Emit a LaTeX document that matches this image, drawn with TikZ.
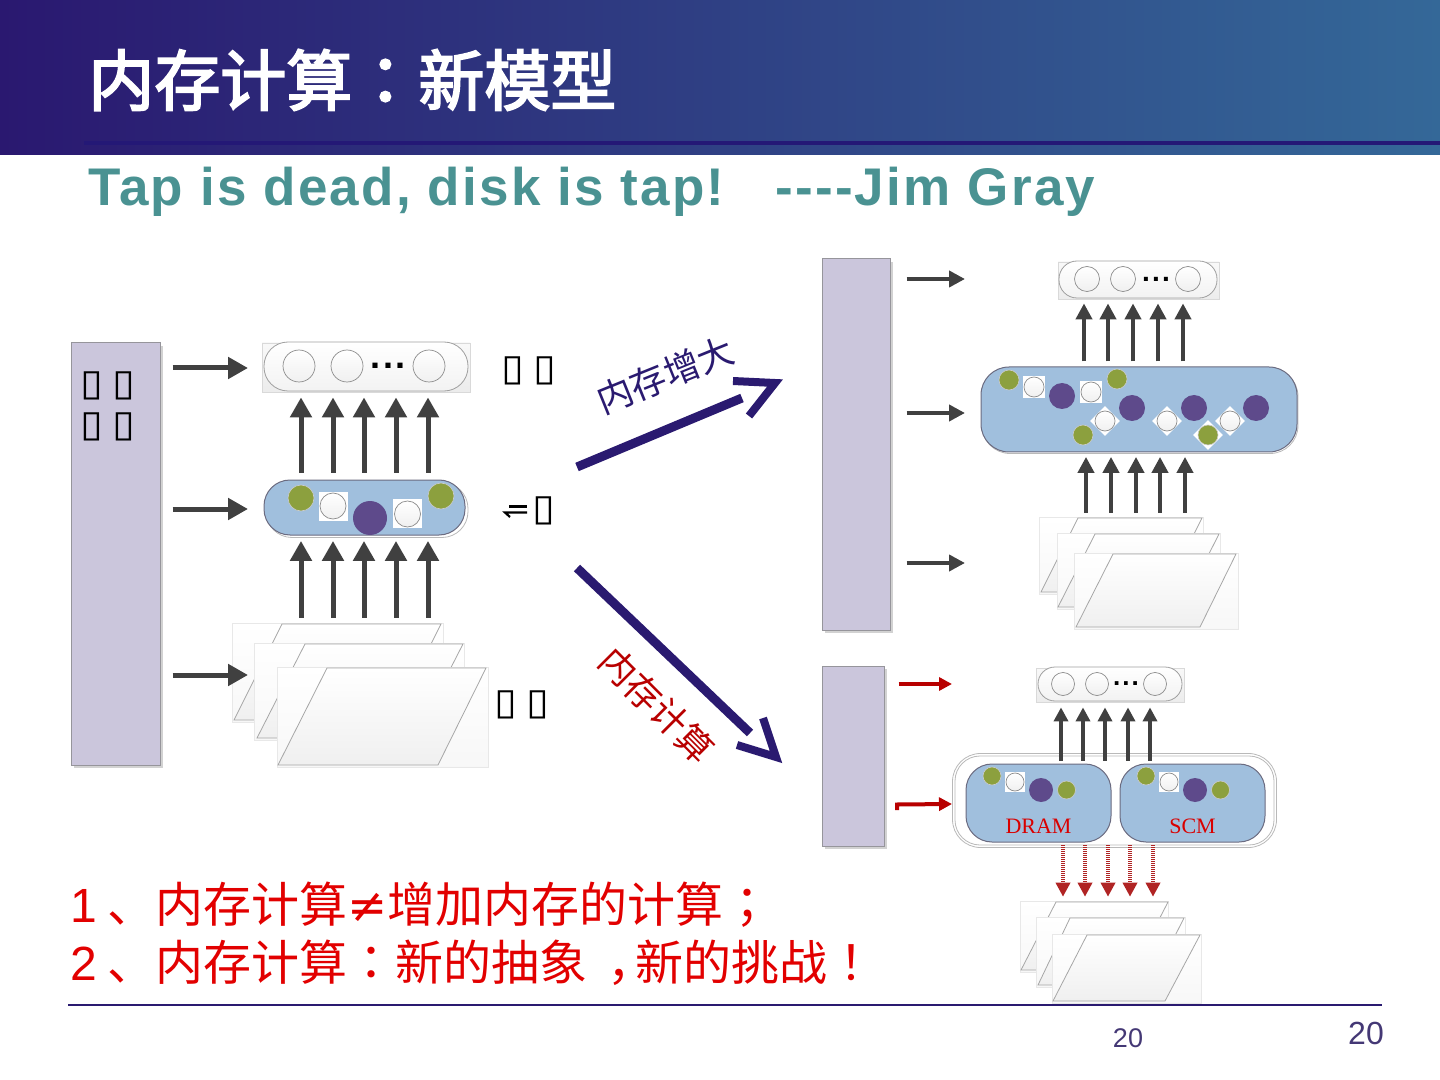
\documentclass[tikz,border=0pt]{standalone}
\usepackage{fontspec}
\setmainfont{Liberation Sans}
\newfontfamily\cjkfont{Noto Sans CJK SC}
\newfontfamily\cjkpunct{Noto Sans CJK TC}
\newfontfamily\titlefont[FakeBold=3]{Noto Sans CJK SC}
\newfontfamily\titlepunct[FakeBold=3]{Noto Sans CJK TC}
\newfontfamily\subfont[LetterSpace=4.2, Ligatures=NoCommon]{Liberation Sans}
\newfontfamily\tofufont[FakeStretch=1.12]{DejaVu Sans}
\newfontfamily\symfont{DejaVu Sans}
\newfontfamily\serffont{Liberation Serif}
\usetikzlibrary{arrows.meta, positioning, calc, shadows}

\definecolor{titleleft}{RGB}{42,24,112}
\definecolor{titleright}{RGB}{52,104,152}
\definecolor{navy}{RGB}{42,26,112}
\definecolor{bandrule}{RGB}{36,24,118}
\definecolor{teal}{RGB}{74,146,146}
\definecolor{lilac}{RGB}{203,198,220}
\definecolor{memblue}{RGB}{160,191,221}
\definecolor{olive}{RGB}{140,160,62}
\definecolor{plum}{RGB}{94,74,139}
\definecolor{arrowgray}{RGB}{64,64,64}
\definecolor{darkred}{RGB}{184,0,0}
\definecolor{dotred}{RGB}{176,36,36}
\definecolor{slidered}{RGB}{226,0,0}

\newcommand{\threedots}{.\hspace{0.08em}.\hspace{0.08em}.}

\begin{document}
\begin{tikzpicture}[
    x=0.5pt, y=-0.5pt,
    barbox/.style={draw=gray!70!lilac, fill=lilac, line width=0.5pt, inner sep=0pt,
      drop shadow={shadow xshift=1.5pt, shadow yshift=-1.5pt, fill=gray!35, opacity=1}},
    capback/.style={draw=gray!30, top color=gray!5, bottom color=gray!15, line width=0.4pt, inner sep=0pt},
    capsule/.style={draw=gray!75, top color=white, bottom color=gray!10, line width=0.4pt, inner sep=0pt},
    memback/.style={draw=gray!55, fill=white, line width=0.4pt, inner sep=0pt},
    membox/.style={draw=gray!30!blue!20!black!60, fill=memblue, line width=0.5pt, inner sep=0pt},
    hollow/.style={circle, draw=gray!90, top color=white, bottom color=gray!12, line width=0.35pt, inner sep=0pt},
    greendot/.style={circle, fill=olive, draw=gray!40, line width=0.3pt, inner sep=0pt},
    plumdot/.style={circle, fill=plum, inner sep=0pt},
    whitetile/.style={fill=white, inner sep=0pt},
    sheetback/.style={top color=white, bottom color=gray!6, draw=gray!18, line width=0.3pt, inner sep=0pt},
    leaf/.style={draw=gray!70, top color=white, bottom color=gray!12, line width=0.4pt},
    sidearr/.style={draw=arrowgray, line width=2.5pt, -{Triangle[length=10pt, width=10.5pt]}},
    sidearrs/.style={draw=arrowgray, line width=2pt, -{Triangle[length=8pt, width=8pt]}},
    redarr/.style={draw=darkred, line width=2pt, -{Triangle[length=6.5pt, width=6.5pt]}},
    uparr/.style={draw=arrowgray, line width=2.5pt, -{Triangle[length=10pt, width=10.5pt]}},
    uparrs/.style={draw=arrowgray, line width=2.2pt, -{Triangle[length=8pt, width=8pt]}},
    uparrt/.style={draw=arrowgray, line width=2pt, -{Triangle[length=7pt, width=7pt]}},
    dotarr/.style={draw=dotred, line width=1.7pt, dash pattern=on 0.5pt off 0.5pt,
      -{Triangle[length=7pt, width=7pt]}},
    bigline/.style={draw=navy, line width=4.5pt},
    bigtip/.style={draw=navy, line width=4pt, miter limit=10},
    tofu/.style={font=\tofufont\fontsize{18.5}{18.5}\selectfont, inner sep=0pt},
    dotstext/.style={font=\bfseries\fontsize{#1}{#1}\selectfont, inner sep=0pt},
  ]
    % title band
    \node[left color=titleleft, right color=titleright, minimum width=720pt, minimum height=77.5pt, inner sep=0pt] (band) at (720,77.5) {};
    \node[fill=bandrule, minimum width=678pt, minimum height=2pt, inner sep=0pt] (bandline) at (762,143) {};
    \node[anchor=west, white, inner sep=0pt, font=\titlefont\fontsize{33}{33}\selectfont] (title) at (88,80) {内存计算{\titlepunct ：}新模型};
    \node[anchor=west, teal, inner sep=0pt, font=\subfont\bfseries\fontsize{26.5}{26.5}\selectfont] (subtitle) at (88,192) {Tap is dead, disk is tap!\ \ \ -{}-{}-{}-Jim Gray};

    % left model
    \node[barbox, minimum width=44.5pt, minimum height=211pt] (barL) at (115.5,554) {};
    \node[capback, minimum width=104pt, minimum height=24.5pt] (appLback) at (366,367.5) {};
    \node[capsule, rounded corners=12pt, minimum width=102pt, minimum height=24.5pt] (appL) at (366,366.5) {};
    \node[hollow, minimum size=16pt] (appLa) at (299,366) {};
    \node[hollow, minimum size=16pt] (appLb) at (347,366) {};
    \node[hollow, minimum size=16pt] (appLc) at (429,366) {};
    \node[dotstext=18] (appLdots) at (388,366) {\threedots};
    \node[memback, rounded corners=13pt, minimum width=101pt, minimum height=27.5pt] (memLback) at (367,510) {};
    \node[membox, rounded corners=13pt, minimum width=100.5pt, minimum height=27.5pt] (memL) at (364.5,507.5) {};
    \node[greendot, minimum size=13pt] (memLg1) at (301,498) {};
    \node[greendot, minimum size=13pt] (memLg2) at (441,496) {};
    \node[whitetile, minimum size=14.5pt] (memLt1) at (333.5,506) {};
    \node[hollow, minimum size=13pt] (memLw1) at (333,506) {};
    \node[whitetile, minimum size=14.5pt] (memLt2) at (407.5,513.5) {};
    \node[hollow, minimum size=13pt] (memLw2) at (407.5,514) {};
    \node[plumdot, minimum size=17pt] (memLp) at (370,518) {};
    \foreach \n/\xa/\xb/\ya/\yb/\tl/\tr/\bl/\br in {
        1/232/443/623/722/282/441/234/393,
        2/254/464/643/740/305/463/257/415,
        3/277/488/667/767/327/486/278/438} {
      \node[sheetback, minimum width={(\xb-\xa)/2*1pt}, minimum height={(\yb-\ya)/2*1pt}] (sheetL\n) at ({(\xa+\xb)/2},{(\ya+\yb)/2}) {};
      \path[leaf] (\tl,\ya+1) -- (\tr,\ya+1) -- (\br,\yb-2) -- (\bl,\yb-2) -- cycle;
    }
    \coordinate (storeLin) at (248,675);
    \coordinate (appLin) at (248,368);
    \coordinate (memLin) at (248,509);
    \draw[sidearr, shorten <=6pt] (barL.east |- appLin) -- (appLin);
    \draw[sidearr, shorten <=6pt] (barL.east |- memLin) -- (memLin);
    \draw[sidearr, shorten <=6pt] (barL.east |- storeLin) -- (storeLin);
    \foreach \x in {301,333,364,396,428} {
      \draw[uparr, shorten <=3.5pt, shorten >=2.5pt] (\x,0 |- memL.north) -- (\x,0 |- appLback.south);
      \draw[uparr, shorten >=1.5pt, shorten <=2.5pt] (\x,0 |- sheetL1.north) -- (\x,0 |- memLback.south);
    }
    \node[tofu] (barLa) at (92,386) {▯};
    \node[tofu] (barLb) at (124,386) {▯};
    \node[tofu] (barLc) at (92,427) {▯};
    \node[tofu] (barLd) at (124,427) {▯};
    \node[tofu] (appLa1) at (513,371) {▯};
    \node[tofu] (appLa2) at (545,371) {▯};
    \draw[line width=1.1pt] (509,506.5) -- (527,506.5);
    \draw[line width=1.1pt] (527,512.5) -- (505,512.5) -- (510,517);
    \node[tofu] (memLa2) at (544,511) {▯};
    \node[tofu] (storeLa1) at (506,705) {▯};
    \node[tofu] (storeLa2) at (538,705) {▯};

    % large arrows
    \coordinate (growA) at (577,467);
    \coordinate (growB) at (742,398);
    \coordinate (growC) at (733,381);
    \coordinate (growD) at (775,383);
    \coordinate (growE) at (749,416);
    \draw[bigline] (growA) -- (growB);
    \draw[bigtip] (growC) -- (growD) -- (growE);
    \coordinate (compA) at (577,568);
    \coordinate (compB) at (750,733);
    \coordinate (compC) at (763,718);
    \coordinate (compD) at (776,757);
    \coordinate (compE) at (737,745);
    \draw[bigline] (compA) -- (compB);
    \draw[bigtip] (compC) -- (compD) -- (compE);
    \node[navy, rotate=22, inner sep=0pt, font=\cjkfont\fontsize{18}{18}\selectfont] (growlabel) at (665,375) {内存增大};
    \node[darkred, rotate=-45, inner sep=0pt, font=\cjkfont\fontsize{18}{18}\selectfont] (complabel) at (657,705) {内存计算};

    % enlarged memory
    \node[barbox, minimum width=34pt, minimum height=185.5pt] (barT) at (856,444.5) {};
    \node[capback, minimum width=80.5pt, minimum height=18.5pt] (appTback) at (1138.5,280.5) {};
    \node[capsule, rounded corners=9pt, minimum width=79pt, minimum height=18.5pt] (appT) at (1138,279.5) {};
    \node[hollow, minimum size=12.5pt] (appTa) at (1087,279) {};
    \node[hollow, minimum size=12.5pt] (appTb) at (1123,279) {};
    \node[hollow, minimum size=12.5pt] (appTc) at (1188,279) {};
    \node[dotstext=14] (appTdots) at (1156,279) {\threedots};
    \node[memback, rounded corners=14pt, minimum width=158pt, minimum height=42.5pt] (memTback) at (1140,411) {};
    \node[membox, rounded corners=14pt, minimum width=158pt, minimum height=42.5pt] (memT) at (1139,409.5) {};
    \foreach \x/\y in {1034/387,1091/392} {
      \node[whitetile, minimum size=11pt] (memTt\x) at (\x,\y) {};
      \node[hollow, minimum size=10pt] (memTw\x) at (\x,\y) {};
    }
    \foreach \x/\y in {1105/421,1167/421,1230/421,1208/435} {
      \node[whitetile, rotate=45, minimum size=10.5pt] (memTd\x) at (\x,\y) {};
    }
    \foreach \x/\y in {1105/421,1167/421,1230/421} {
      \node[hollow, minimum size=10pt] (memTw\x) at (\x,\y) {};
    }
    \foreach \x/\y in {1009/380,1117/379,1083/435,1208/435} {
      \node[greendot, minimum size=10pt] (memTg\x) at (\x,\y) {};
    }
    \foreach \x/\y in {1062/396,1132/408,1194/408,1256/408} {
      \node[plumdot, minimum size=13pt] (memTp\x) at (\x,\y) {};
    }
    \foreach \n/\xa/\xb/\ya/\yb/\tl/\tr/\bl/\br in {
        1/1039/1203/517/594/1078/1202/1041/1165,
        2/1057/1220/533/609/1095/1219/1058/1182,
        3/1074/1238/553/629/1113/1236/1076/1200} {
      \node[sheetback, minimum width={(\xb-\xa)/2*1pt}, minimum height={(\yb-\ya)/2*1pt}] (sheetT\n) at ({(\xa+\xb)/2},{(\ya+\yb)/2}) {};
      \path[leaf] (\tl,\ya+1) -- (\tr,\ya+1) -- (\br,\yb-2) -- (\bl,\yb-2) -- cycle;
    }
    \coordinate (appTin) at (965,279);
    \coordinate (memTin) at (965,413);
    \coordinate (storeTin) at (965,563);
    \draw[sidearrs, shorten <=8pt] (barT.east |- appTin) -- (appTin);
    \draw[sidearrs, shorten <=8pt] (barT.east |- memTin) -- (memTin);
    \draw[sidearrs, shorten <=8pt] (barT.east |- storeTin) -- (storeTin);
    \foreach \x in {1084,1108,1133,1158,1183}
      \draw[uparrs, shorten <=2.5pt, shorten >=2pt] (\x,0 |- memT.north) -- (\x,0 |- appTback.south);
    \foreach \x in {1086,1111,1136,1160,1185}
      \draw[uparrs, shorten <=2pt, shorten >=1.5pt] (\x,0 |- sheetT1.north) -- (\x,0 |- memTback.south);

    % memory computing
    \node[barbox, minimum width=31pt, minimum height=90pt] (barB) at (853,756) {};
    \node[capback, minimum width=74pt, minimum height=17pt] (appBback) at (1110,685) {};
    \node[capsule, rounded corners=8.5pt, minimum width=72pt, minimum height=17pt] (appB) at (1110,684) {};
    \node[hollow, minimum size=11.5pt] (appBa) at (1063,684) {};
    \node[hollow, minimum size=11.5pt] (appBb) at (1097,684) {};
    \node[hollow, minimum size=11.5pt] (appBc) at (1155,684) {};
    \node[dotstext=13] (appBdots) at (1126,684) {\threedots};
    \node[memback, rounded corners=14pt, minimum width=162pt, minimum height=47pt] (hybridback) at (1114.5,800.5) {};
    \node[memback, rounded corners=12.5pt, minimum width=159.5pt, minimum height=44.5pt] (hybrid) at (1114.5,800.5) {};
    \foreach \k/\x/\lab in {DRAM/1038.5/DRAM, SCM/1192.5/SCM} {
      \node[membox, rounded corners=13pt, minimum width=72.5pt, minimum height=39pt] (mem\k) at (\x,803) {};
      \node[whitetile, minimum size=10pt] (tile\k) at (\x-23.5,782) {};
      \node[hollow, minimum size=9pt] (white\k) at (\x-23.5,782) {};
      \node[greendot, minimum size=9pt] (greenA\k) at (\x-46.5,776) {};
      \node[greendot, minimum size=9pt] (greenB\k) at (\x+28,790) {};
      \node[plumdot, minimum size=12pt] (plum\k) at (\x+2.5,790) {};
      \node[inner sep=0pt, text=red!85!black, font=\serffont\fontsize{11}{11}\selectfont] (label\k) at (\x,826) {\lab};
    }
    \foreach \n/\xa/\xb/\ya/\yb/\tl/\tr/\bl/\br in {
        1/1020/1168/901/972/1056/1168/1021/1133,
        2/1036/1185/917/987/1070/1184/1038/1150,
        3/1052/1201/934/1003/1087/1200/1053/1165} {
      \node[sheetback, minimum width={(\xb-\xa)/2*1pt}, minimum height={(\yb-\ya)/2*1pt}] (sheetB\n) at ({(\xa+\xb)/2},{(\ya+\yb)/2}) {};
      \path[leaf] (\tl,\ya+1) -- (\tr,\ya+1) -- (\br,\yb-2) -- (\bl,\yb-2) -- cycle;
    }
    \coordinate (appBin) at (952,684);
    \coordinate (memBin) at (952,804);
    \coordinate (memBtick) at (897,810);
    \draw[redarr, shorten <=7pt] (barB.east |- appBin) -- (appBin);
    \draw[redarr] (memBtick) -- (897,804.5) -- (memBin);
    \foreach \x in {1061,1083,1105,1128,1150} {
      \draw[uparrt, shorten <=-2.5pt, shorten >=2.5pt] (\x,0 |- hybrid.north) -- (\x,0 |- appBback.south);
    }
    \foreach \x in {1063,1085,1108,1130,1153} {
      \draw[dotarr, shorten <=0pt, shorten >=2pt] (\x,0 |- hybrid.south) -- (\x,0 |- sheetB1.north);
    }

    % conclusions
    \node[anchor=west, inner sep=0pt, text=slidered, font=\fontsize{24}{24}\selectfont] (lineA) at (70,905) {1\hspace{5.2pt}{\cjkfont 、内存计算}{\symfont ≠}{\cjkfont 增加内存的计算}{\cjkpunct ；}};
    \node[anchor=west, inner sep=0pt, text=slidered, font=\fontsize{24}{24}\selectfont] (lineB) at (70,963) {2\hspace{5.2pt}{\cjkfont 、内存计算}{\cjkpunct ：}{\cjkfont 新的抽象\hspace{0.42em}，\hspace{-0.42em}新的挑战}{\cjkpunct ！}};

    % footer
    \coordinate (ruleA) at (68,1005);
    \coordinate (ruleB) at (1382,1005);
    \draw[navy, line width=1pt] (ruleA) -- (ruleB);
    \node[inner sep=0pt, text=navy!70!gray, font=\fontsize{13.5}{13.5}\selectfont] (pageA) at (1128,1038) {20};
    \node[inner sep=0pt, text=navy!70!gray, font=\fontsize{16}{16}\selectfont] (pageB) at (1366,1033) {20};

    \useasboundingbox (0,0) rectangle (1440,1080);
  \end{tikzpicture}
\end{document}
